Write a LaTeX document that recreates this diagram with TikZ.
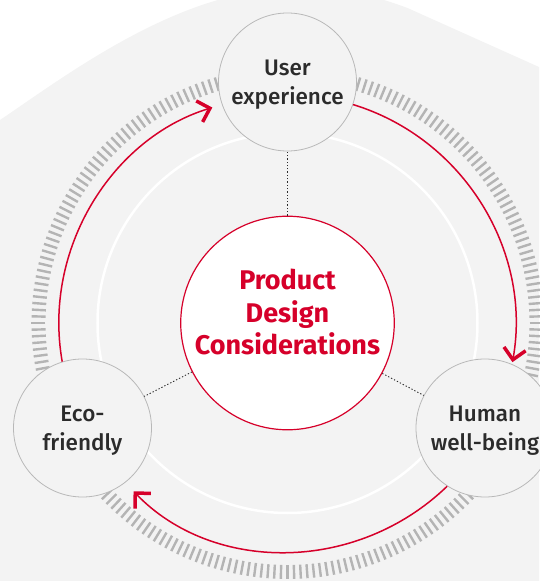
\documentclass[tikz,border=0pt]{standalone}
\usepackage{fontspec}
\setmainfont{Fira Sans}
\IfFontExistsTF{Fira Sans Medium}
    {\newfontfamily\topicfont{Fira Sans Medium}}
    {\newfontfamily\topicfont{Fira Sans}[FakeBold=2]}
\usetikzlibrary{arrows.meta, backgrounds}

\definecolor{paper}{RGB}{243,243,243}
\definecolor{rimgray}{RGB}{184,184,184}
\definecolor{hatchgray}{RGB}{180,180,180}
\definecolor{brandred}{RGB}{214,0,42}
\definecolor{ink}{RGB}{43,43,43}

\begin{document}
\begin{tikzpicture}[
    x=1pt, y=1pt,
    hub/.style={circle, draw=brandred, line width=1.2pt, fill=white, minimum size=208pt, inner sep=0pt, align=center, text depth=22pt, text=brandred, font=\bfseries\fontsize{27}{32.5}\selectfont},
    topic/.style={circle, draw=rimgray, line width=0.8pt, fill=paper, minimum size=138pt, inner sep=0pt, align=center, text depth=0pt, text=ink, font=\topicfont\fontsize{22.5}{28.5}\selectfont},
    link/.style={draw=ink, line width=0.9pt, dash pattern=on 1.3pt off 2pt},
    flow/.style={draw=brandred, line width=1.5pt, -{Straight Barb[length=11pt, width=22pt, line width=3.5pt]}},
    hatch/.style={draw=hatchgray, line width=2.4pt}
]
\useasboundingbox (-287.5,-258) rectangle (251.5,323);

\node [hub] (design) at (0,0) {Product\\Design\\Considerations};
\node [topic] (ux) at (0,241) {User\\experience};
\node [topic] (eco) at (-205,-105) {Eco-\\friendly};
\node [topic] (human) at (197.5,-105) {Human\\well-being};

\begin{pgfonlayer}{background}
\fill [paper] (-287.5,-258) -- (-287.5,203) .. controls (-225,245) and (-110,333) .. (0,334)
    .. controls (50,335) and (80,330) .. (120,315) -- (251.5,256) -- (251.5,-258) -- cycle;
\draw [white, line width=2.5pt] (design.center) circle[radius=190];
\foreach \a in {0,1.5,...,358.5}
    \draw [hatch] (\a:242) -- (\a:256);
\end{pgfonlayer}

\draw [link] (design) -- (ux);
\draw [link] (design) -- (eco);
\draw [link] (design) -- (human);

\draw [flow, shorten >=10pt] (eco.107) to[out=100, in=197, looseness=0.97] (ux.199);
\draw [flow, shorten >=2pt] (ux.341) to[out=-17, in=80, looseness=0.97] (human.67);
\draw [flow, shorten >=12pt] (human.237) to[out=224, in=-46, looseness=1] (eco.308);
\end{tikzpicture}
\end{document}
